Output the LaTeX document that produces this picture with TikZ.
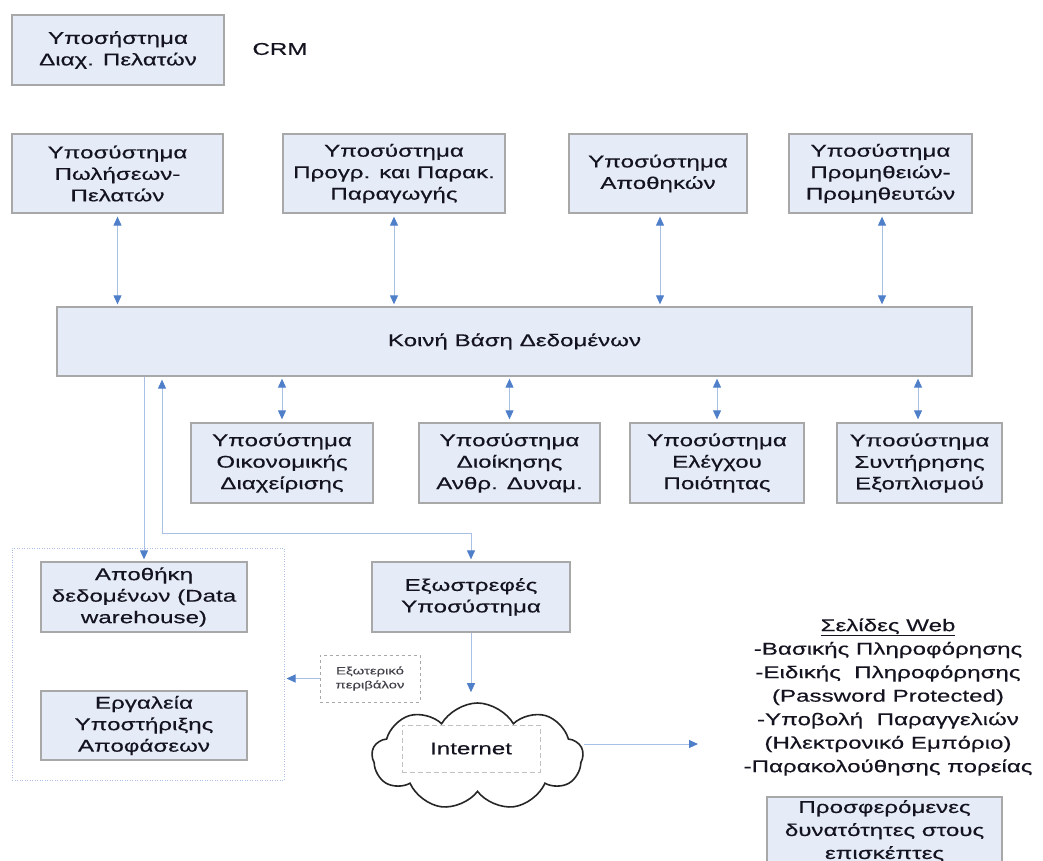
\documentclass[tikz,border=0pt]{standalone}
\usepackage{fontspec}
\setmainfont{Liberation Sans}[FakeStretch=1.42,FakeBold=0.4]
\usetikzlibrary{arrows.meta,shapes.symbols}
\definecolor{boxfill}{HTML}{E6ECF7}
\definecolor{boxline}{HTML}{A8A8A8}
\definecolor{arrline}{HTML}{A9C0E4}
\definecolor{arrhead}{HTML}{4F7FC9}
\definecolor{txt}{HTML}{141420}
\begin{document}
\begin{tikzpicture}[x=1pt,y=-1pt,
  box/.style={draw=boxline, line width=1.3pt, fill=boxfill, inner sep=0pt, align=center, text=txt, font=\fontsize{17}{21.5}\selectfont},
  link/.style={draw=arrline, line width=1pt, arrows={-Triangle[color=arrhead,length=9pt,width=8pt]}, shorten >=2pt},
  dlink/.style={draw=arrline, line width=1pt, arrows={Triangle[color=arrhead,length=9pt,width=8pt]-Triangle[color=arrhead,length=9pt,width=8pt]}, shorten >=2pt, shorten <=3pt},
  plain/.style={text=txt, align=center, font=\fontsize{17}{21.5}\selectfont}
]
\useasboundingbox (0,0) rectangle (1043,861);
\clip (0,0) rectangle (1043,861);

% CRM
\node[box, minimum width=212, minimum height=70] (crm) at (118,50) {Υποσήστημα\\Διαχ. Πελατών};
\node[plain] (crmlbl) at (280,49) {CRM};

% top row
\node[box, minimum width=211, minimum height=79] (sales) at (117.5,173.5) {Υποσύστημα\\Πωλήσεων-\\Πελατών};
\node[box, minimum width=222, minimum height=79] (prod) at (394,173.5) {Υποσύστημα\\Προγρ. και Παρακ.\\Παραγωγής};
\node[box, minimum width=178, minimum height=79] (wh) at (658,173.5) {Υποσύστημα\\Αποθηκών};
\node[box, minimum width=183, minimum height=79] (sup) at (880.5,173.5) {Υποσύστημα\\Προμηθειών-\\Προμηθευτών};

% database
\node[box, minimum width=915, minimum height=69] (db) at (514.5,341.5) {Κοινή Βάση Δεδομένων};

% bottom row
\node[box, minimum width=182, minimum height=80] (fin) at (282,463) {Υποσύστημα\\Οικονομικής\\Διαχείρισης};
\node[box, minimum width=181, minimum height=80] (hr) at (509.5,463) {Υποσύστημα\\Διοίκησης\\Ανθρ. Δυναμ.};
\node[box, minimum width=174, minimum height=80] (qc) at (717,463) {Υποσύστημα\\Ελέγχου\\Ποιότητας};
\node[box, minimum width=165, minimum height=80] (mnt) at (919.5,463) {Υποσύστημα\\Συντήρησης\\Εξοπλισμού};

% arrows top
\draw[dlink] (sales.south) -- (sales.south |- db.north);
\draw[dlink] (prod.south) -- (prod.south |- db.north);
\draw[dlink] ([xshift=2pt]wh.south) -- ([xshift=2pt]wh.south |- db.north);
\draw[dlink] ([xshift=1.5pt]sup.south) -- ([xshift=1.5pt]sup.south |- db.north);
% arrows bottom
\draw[dlink] (fin.north) -- (fin.north |- db.south);
\draw[dlink] (hr.north) -- (hr.north |- db.south);
\draw[dlink] (qc.north) -- (qc.north |- db.south);
\draw[dlink] ([xshift=-1.5pt]mnt.north) -- ([xshift=-1.5pt]mnt.north |- db.south);

% lower left container
\node[draw=arrline, line width=1pt, dash pattern=on 1pt off 1.5pt, minimum width=272, minimum height=232, inner sep=0pt] (cont) at (148,664) {};
\node[box, minimum width=206, minimum height=70] (dw) at (144,597) {Αποθήκη\\δεδομένων (Data\\warehouse)};
\node[box, minimum width=206, minimum height=69] (dss) at (144,725.5) {Εργαλεία\\Υποστήριξης\\Αποφάσεων};

% outward subsystem
\node[box, minimum width=198, minimum height=70] (ext) at (471,597) {Εξωστρεφές\\Υποσύστημα};

% db links
\draw[link] (db.south -| dw.north) -- (dw.north);
\coordinate (j1) at (162,533);
\draw[dlink] (db.south -| j1) -- (j1) -| (ext.north);

% external environment
\node[draw=boxline, line width=1pt, dashed, minimum width=100, minimum height=47, inner sep=0pt, align=center, text=txt!80, font=\fontsize{10.5}{14}\selectfont] (env) at (370,678.5) {Εξωτερικό\\περιβάλον};
\draw[link] (env.west) -- (env.west -| cont.east);

% cloud
\node[cloud, cloud puffs=9, cloud puff arc=120, aspect=2, draw=black!85, line width=1.6pt, fill=white, minimum width=211, minimum height=107, inner sep=0pt] (cloud) at (477.5,756.5) {};
\node[draw=boxline!70, line width=1pt, dash pattern=on 5pt off 3pt, minimum width=138, minimum height=47, inner sep=0pt, text=txt, font=\fontsize{17}{21.5}\selectfont] (inet) at (471,748.5) {Internet};
\draw[link, shorten >=10pt] (ext.south) -- (ext.south |- cloud.north);

% web pages
\coordinate (webend) at (700,744);
\draw[link] (cloud.east |- webend) -- (webend);
\node[plain, font=\fontsize{17}{23.5}\selectfont] (web) at (888,697) {\underline{Σελίδες Web}\hspace{42pt}\\-Βασικής Πληροφόρησης\\-Ειδικής~ Πληροφόρησης\\(Password Protected)\\-Υποβολή~ Παραγγελιών\\(Ηλεκτρονικό Εμπόριο)\\-Παρακολούθησης πορείας};
\node[box, minimum width=235, minimum height=68, font=\fontsize{17}{23}\selectfont] (offer) at (884.5,831) {Προσφερόμενες\\δυνατότητες στους\\επισκέπτες};
\end{tikzpicture}
\end{document}
